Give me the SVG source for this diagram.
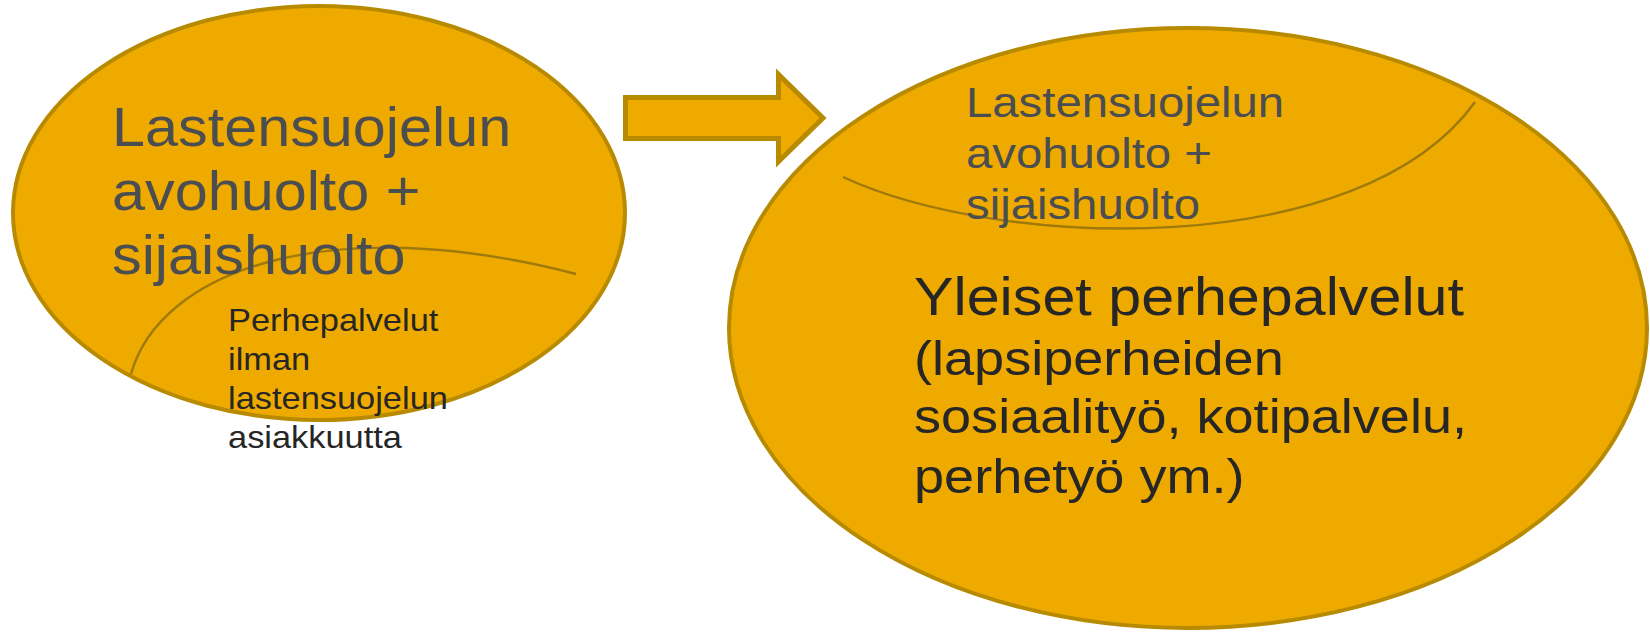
<svg xmlns="http://www.w3.org/2000/svg" width="1650" height="632" viewBox="0 0 1650 632">
  <style>
    .blob { fill: #EFAA00; stroke: #B88A00; stroke-width: 4; }
    .arc { fill: none; stroke: #9E7A0C; stroke-width: 2.4; }
    .t { font-family: "Liberation Sans", Arial, sans-serif; }
    .gray { fill: #4B4E50; }
    .dark { fill: #262626; }
    .arrow { fill: #EFAA00; stroke: #B88A00; stroke-width: 5; stroke-linejoin: miter; }
  </style>
  <rect width="1650" height="632" fill="#ffffff"/>

  <g id="node-left">
    <ellipse class="blob" cx="319" cy="213" rx="306" ry="207"/>
    <path class="arc" d="M131,374 C160,270 330,210 576,274"/>
    <text class="t gray" font-size="56" transform="translate(112,146) scale(1.06,1)">
      <tspan x="0" y="0">Lastensuojelun</tspan>
      <tspan x="0" y="64">avohuolto +</tspan>
      <tspan x="0" y="128">sijaishuolto</tspan>
    </text>
    <text class="t dark" font-size="31" transform="translate(228,331) scale(1.11,1)">
      <tspan x="0" y="0">Perhepalvelut</tspan>
      <tspan x="0" y="39">ilman</tspan>
      <tspan x="0" y="78">lastensuojelun</tspan>
      <tspan x="0" y="117">asiakkuutta</tspan>
    </text>
  </g>

  <g id="node-right">
    <ellipse class="blob" cx="1188" cy="328" rx="459" ry="300"/>
    <path class="arc" d="M843,177 C1000,250 1360,262 1475,102"/>
    <text class="t gray" font-size="43" transform="translate(966,117) scale(1.1,1)">
      <tspan x="0" y="0">Lastensuojelun</tspan>
      <tspan x="0" y="51">avohuolto +</tspan>
      <tspan x="0" y="102">sijaishuolto</tspan>
    </text>
    <text class="t dark" font-size="53" transform="translate(914,315) scale(1.118,1)">Yleiset perhepalvelut</text>
    <text class="t dark" font-size="48.5" transform="translate(914,374.5) scale(1.115,1)">
      <tspan x="0" y="0">(lapsiperheiden</tspan>
      <tspan x="0" y="59">sosiaalityö, kotipalvelu,</tspan>
      <tspan x="0" y="118.5">perhetyö ym.)</tspan>
    </text>
  </g>

  <g id="connectors">
    <path id="arrow-left-to-right" class="arrow" d="M625.5,97.5 H778.5 V74.5 L823,118 L778.5,161.5 V138.5 H625.5 Z"/>
  </g>
</svg>
